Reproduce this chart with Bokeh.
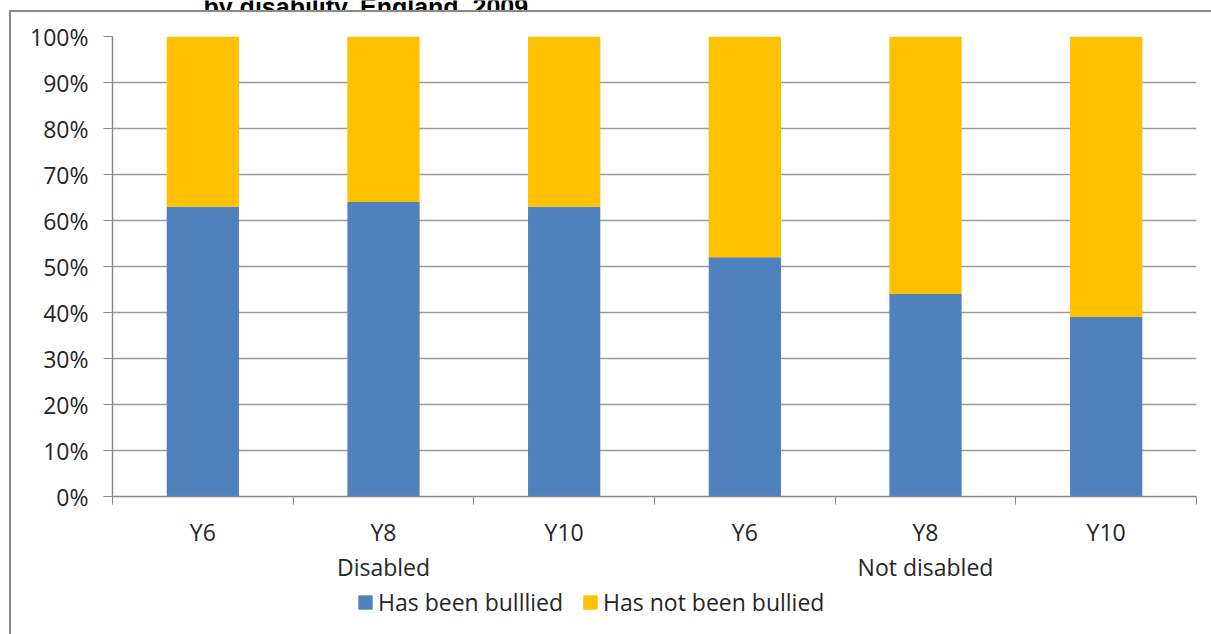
from bokeh.plotting import figure
from bokeh.layouts import column
from bokeh.models import (ColumnDataSource, FixedTicker, LinearAxis, Range1d, Legend,
                          LegendItem, Label, PrintfTickFormatter, CustomJSTickFormatter,
                          InlineStyleSheet)
from bokeh.embed import file_html
from bokeh.resources import INLINE

categories = ["Y6", "Y8", "Y10", "Y6", "Y8", "Y10"]
groups = ["Disabled", "Not disabled"]
bullied = [63, 64, 63, 52, 44, 39]
not_bullied = [37, 36, 37, 48, 56, 61]
series_names = ["Has been bulllied", "Has not been bullied"]
y_ticks = [0, 10, 20, 30, 40, 50, 60, 70, 80, 90, 100]
title_text = "by disability, England, 2009"

FONT = "Open Sans"
FS = "23px"
TXT = "#262626"
GRID = "#9c9c9c"
COLORS = ["#4f81bd", "#ffc000"]

n = len(categories)
xs = [i + 0.5 for i in range(n)]
src = ColumnDataSource(dict(x=xs, cat=categories, bullied=bullied, not_bullied=not_bullied))


def strip(height):
    f = figure(width=1211, height=height, output_backend="svg", toolbar_location=None,
               x_range=Range1d(0, 1), y_range=Range1d(1000, 1001),
               min_border_left=0, min_border_right=0, min_border_top=0, min_border_bottom=0,
               x_axis_type=None, y_axis_type=None)
    f.outline_line_color = None
    f.xgrid.grid_line_color = None
    f.ygrid.grid_line_color = None
    return f


# title strip (the title is cropped at the top edge, as in the source image)
tp = strip(12)
tp.stylesheets = [InlineStyleSheet(css=""":host::after { content: ""; position: absolute;
  left: 9px; top: 10px; right: 0; height: 0; border-top: 2px solid #8a8a8a;
  border-left: 2px solid #8a8a8a; pointer-events: none; }""")]
tp.add_layout(Label(x=91, y=5.5, x_units="screen", y_units="screen", text=title_text,
                    text_font="Liberation Sans", text_font_style="bold",
                    text_font_size="25px", text_color="#000000", text_baseline="alphabetic"))

# main chart
p = figure(width=1211, height=573, output_backend="svg", toolbar_location=None,
           x_range=Range1d(0, n), y_range=Range1d(0, 100),
           min_border_left=112, min_border_right=15, min_border_top=24, min_border_bottom=87,
           x_axis_type=None)
p.outline_line_color = None
p.background_fill_color = "white"
p.border_fill_color = "white"
p.stylesheets = [InlineStyleSheet(css=""":host::after { content: ""; position: absolute;
  left: 9px; top: 0; bottom: 0; border-left: 2px solid #8a8a8a; pointer-events: none; }""")]

rs = p.vbar_stack(["bullied", "not_bullied"], x="x", width=0.4,
                  color=COLORS, line_color=None, source=src)

ya = p.yaxis[0]
ya.ticker = FixedTicker(ticks=y_ticks)
ya.formatter = PrintfTickFormatter(format="%d%%")
ya.axis_line_color = "#8a8a8a"
ya.axis_line_width = 1.5
ya.major_tick_line_color = "#8a8a8a"
ya.major_tick_out = 9
ya.major_tick_in = 0
ya.minor_tick_line_color = None
ya.major_label_standoff = 15
ya.major_label_text_font = FONT
ya.major_label_text_font_size = FS
ya.major_label_text_color = TXT

p.ygrid.ticker = FixedTicker(ticks=y_ticks)
p.ygrid.grid_line_color = GRID
p.ygrid.grid_line_width = 1.5
p.xgrid.grid_line_color = None

xa = LinearAxis(ticker=FixedTicker(ticks=xs, minor_ticks=list(range(n + 1))),
                formatter=CustomJSTickFormatter(args=dict(labels=categories),
                                                code="return labels[Math.floor(tick)]"))
xa.axis_line_color = "#8a8a8a"
xa.axis_line_width = 1.5
xa.major_tick_line_color = None
xa.major_tick_out = 0
xa.major_tick_in = 0
xa.minor_tick_line_color = "#8a8a8a"
xa.minor_tick_out = 8
xa.minor_tick_in = 0
xa.major_label_standoff = 11
xa.major_label_text_font = FONT
xa.major_label_text_font_size = FS
xa.major_label_text_color = TXT
p.add_layout(xa, "below")

ga = LinearAxis(ticker=FixedTicker(ticks=[1.5, 4.5], minor_ticks=[]),
                formatter=CustomJSTickFormatter(args=dict(labels=groups),
                                                code="return labels[Math.floor(tick / 3)]"))
ga.axis_line_color = None
ga.major_tick_line_color = None
ga.minor_tick_line_color = None
ga.major_tick_out = 0
ga.major_tick_in = 0
ga.major_label_standoff = 0
ga.major_label_text_font = FONT
ga.major_label_text_font_size = FS
ga.major_label_text_color = TXT
p.add_layout(ga, "below")

# legend strip (same series, drawn outside its visible range so only the legend shows)
lp = strip(49)
lp.x_range = Range1d(0, n)
lp.stylesheets = [InlineStyleSheet(css=""":host::after { content: ""; position: absolute;
  left: 9px; top: 0; bottom: 0; border-left: 2px solid #8a8a8a; pointer-events: none; }""")]
lrs = lp.vbar_stack(["bullied", "not_bullied"], x="x", width=0.4,
                    color=COLORS, line_color=None, source=src)
legend = Legend(items=[LegendItem(label=series_names[0], renderers=[lrs[0]]),
                       LegendItem(label=series_names[1], renderers=[lrs[1]])],
                orientation="horizontal", location=(244, 16),
                padding=0, margin=0, spacing=18, label_standoff=4,
                glyph_width=18, glyph_height=18,
                label_text_font=FONT, label_text_font_size=FS, label_text_color=TXT,
                border_line_color=None, background_fill_alpha=0)
lp.add_layout(legend, "center")

layout = column(tp, p, lp, spacing=0)
open("out.html", "w").write(file_html(layout, INLINE))
